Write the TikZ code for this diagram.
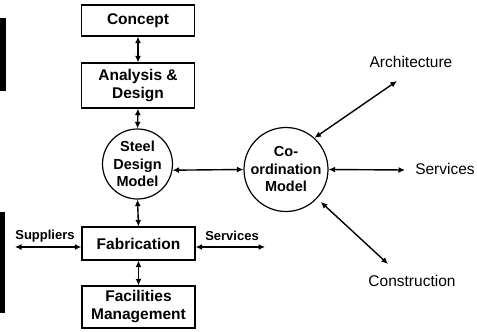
\documentclass[tikz,border=0pt]{standalone}
\usepackage{fontspec}
\setmainfont{Liberation Sans}
\usetikzlibrary{arrows.meta}
\begin{document}
\begin{tikzpicture}[x=1pt,y=1pt,
  boxnode/.style={draw,line width=1.2pt,minimum width=113pt,align=center,inner sep=1pt,
     font=\bfseries\fontsize{15.5}{18}\selectfont},
  circnode/.style={draw,circle,line width=1.2pt,align=center,inner sep=0pt,
     font=\bfseries\fontsize{14.5}{17.5}\selectfont},
  smalllab/.style={inner sep=0pt,font=\bfseries\fontsize{13}{15}\selectfont},
  biglab/.style={inner sep=0pt,font=\fontsize{15.5}{18}\selectfont},
  conn/.style={line width=1.4pt,{Latex[length=6.5pt,width=6pt]}-{Latex[length=6.5pt,width=6pt]}}]
\useasboundingbox (0,0) rectangle (477,-332);
% scan bars at left edge
\fill (0,-18) rectangle (6,-91);
\fill (0,-212) rectangle (5,-313);
% nodes
\node[boxnode,minimum height=31pt] (concept) at (138,-20.5) {Concept};
\node[boxnode,minimum height=45pt] (analysis) at (138,-85.5) {Analysis \&\\Design};
\node[circnode,minimum size=70pt] (steel) at (137.5,-164) {Steel\\Design\\Model};
\node[boxnode,minimum height=33pt] (fab) at (138.5,-243.5) {Fabrication};
\node[boxnode,minimum height=42pt] (fac) at (138.5,-307) {Facilities\\Management};
\node[circnode,minimum size=74pt] (coord) at (286,-169.5) {Co-\\ordination\\Model};
\node[smalllab] (supp) at (45,-236) {Suppliers};
\node[smalllab] (servL) at (232,-236) {Services};
\node[biglab] (arch) at (411,-62) {Architecture};
\node[biglab] (servR) at (445,-169) {Services};
\node[biglab] (constr) at (412,-281) {Construction};
% free ends
\coordinate (suppend) at (15,-247);
\coordinate (servLend) at (265,-247);
\coordinate (archend) at (397,-81);
\coordinate (servRend) at (405,-170);
\coordinate (constrend) at (388,-264);
% connectors
\draw[conn] (concept.south) -- (analysis.north);
\draw[conn] (analysis.south) -- (steel.north);
\draw[conn] (steel.south) -- (fab.north);
\draw[conn] (fab.south) -- (fac.north);
\draw[conn] (suppend) -- (suppend -| fab.west);
\draw[conn] (servLend -| fab.east) -- (servLend);
\draw[conn] (steel.-10) -- (coord.west);
\draw[conn] (coord.east) -- (servRend);
\draw[conn] (coord.48) -- (archend);
\draw[conn,shorten <=5pt] (coord.-43) -- (constrend);
\end{tikzpicture}
\end{document}
